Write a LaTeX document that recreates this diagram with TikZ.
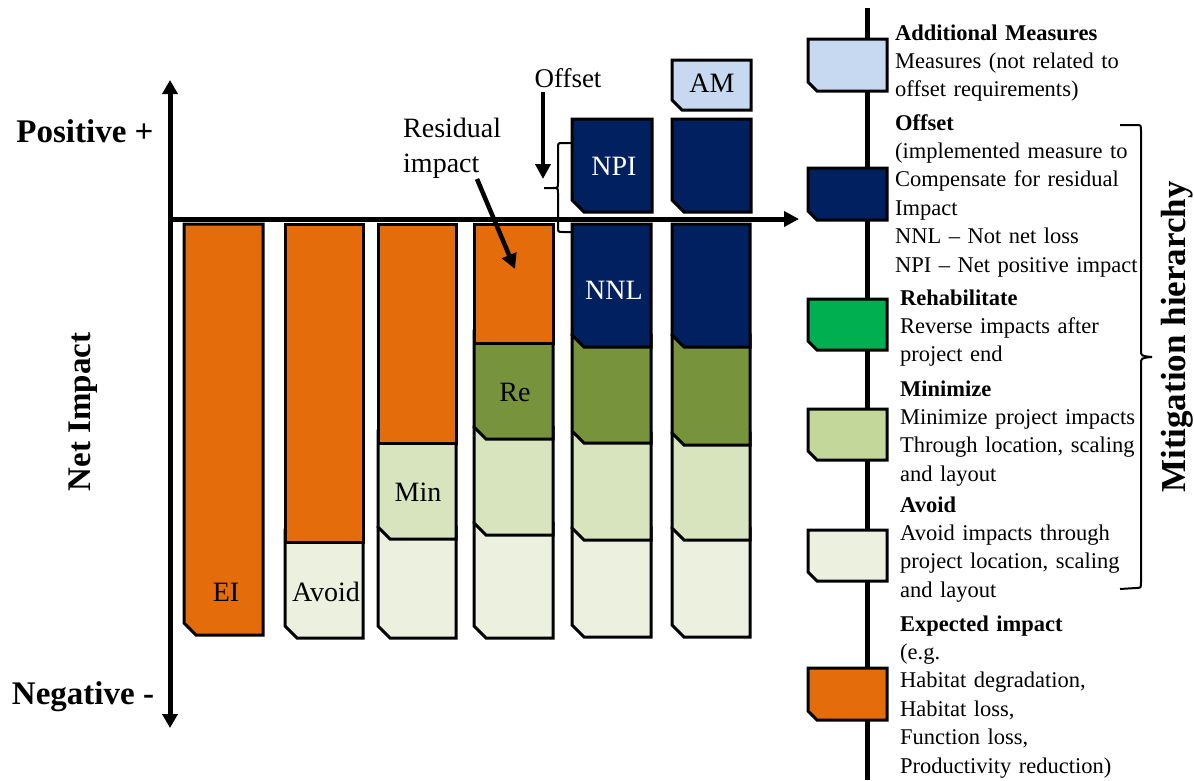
\documentclass[tikz,border=0pt]{standalone}
\usepackage{fontspec}
\setmainfont{Liberation Serif}
\usetikzlibrary{arrows.meta}
\definecolor{orng}{RGB}{228,108,10}
\definecolor{navy}{RGB}{0,32,96}
\definecolor{rec}{RGB}{119,147,60}
\definecolor{minc}{RGB}{215,228,189}
\definecolor{avc}{RGB}{235,241,222}
\definecolor{amc}{RGB}{198,217,241}
\definecolor{rehab}{RGB}{0,176,80}
\definecolor{minleg}{RGB}{196,215,155}
\newcommand\cseg[6][12]{\filldraw[segline,fill=#6] (#2,#4) -- (#3,#4) -- (#3,#5) -- ({#2+#1},#5) -- (#2,{#5-#1}) -- cycle;}
\newcommand\sseg[5]{\filldraw[segline,fill=#5] (#1,#3) rectangle (#2,#4);}
\begin{document}
\begin{tikzpicture}[x=1pt,y=-1pt,
  segline/.style={line width=3pt,line join=miter,draw=black},
  axisline/.style={line width=5pt},
  thickarrow/.style={line width=4.5pt,-{Triangle[length=15pt,width=15pt]}},
  bracel/.style={line width=2pt},
  lbl/.style={font=\fontsize{28}{32}\selectfont,inner sep=0pt},
  wlbl/.style={lbl,text=white},
  big/.style={font=\fontsize{33}{38}\selectfont\bfseries,inner sep=0pt},
  leg/.style={font=\fontsize{22.5}{28.4}\selectfont,inner sep=0pt,text width=300pt,align=left,anchor=base west},
  note/.style={font=\fontsize{27}{35}\selectfont,inner sep=0pt}
]
\useasboundingbox (0,0) rectangle (1194,780);
\fill[white] (0,0) rectangle (1194,780);

% ---- axes
\coordinate (vtop) at (170,80);
\coordinate (vbot) at (170,728);
\coordinate (horg) at (170,219);
\coordinate (htip) at (799,219);
\draw[axisline,{Triangle[length=14pt,width=15pt]}-{Triangle[length=14pt,width=15pt]}] (vbot) -- (vtop);
\draw[axisline,-{Triangle[length=15pt,width=15pt]}] ([xshift=-2.5pt]horg) -- (htip);

\node[big] (pos) at (85,131) {Positive +};
\node[big] (neg) at (83,697) {Negative -};
\node[big,rotate=90] (net) at (83,412) {Net Impact};

% ---- bar 1
\cseg{184}{263}{224}{635}{orng}
% ---- bar 2
\cseg{285}{363}{530}{638}{avc}
\sseg{285}{363}{224}{542}{orng}
% ---- bar 3
\cseg{378}{456}{527}{638}{avc}
\cseg{378}{456}{431}{539}{minc}
\sseg{378}{456}{224}{443}{orng}
% ---- bar 4
\cseg{474}{553}{523}{638}{avc}
\cseg{474}{553}{427}{535}{minc}
\cseg{474}{553}{331}{439}{rec}
\sseg{474}{553}{224}{343}{orng}
% ---- bar 5
\cseg{572}{651}{528}{637}{avc}
\cseg{572}{651}{433}{540}{minc}
\cseg{572}{651}{335}{443}{rec}
\cseg{572}{651}{224}{347}{navy}
\cseg{572}{652}{119}{212}{navy}
% ---- bar 6
\cseg{672}{750}{528}{637}{avc}
\cseg{672}{750}{433}{540}{minc}
\cseg{672}{750}{335}{445}{rec}
\cseg{672}{750}{224}{347}{navy}
\cseg{672}{751}{119}{212}{navy}
\cseg[10]{672}{751}{60}{110}{amc}

% ---- bar labels
\node[lbl] (ei) at (226,592) {EI};
\node[lbl] (avl) at (326,592) {Avoid};
\node[lbl] (minl) at (418,492) {Min};
\node[lbl] (rel) at (515,392) {Re};
\node[wlbl] (nnl) at (614,290) {NNL};
\node[wlbl] (npi) at (614,166) {NPI};
\node[lbl] (am) at (712,83) {AM};

% ---- offset
\node[note] (off) at (568,78) {Offset};
\coordinate (offa) at (543,92);
\coordinate (offb) at (543,179);
\draw[thickarrow] (offa) -- (offb);
\draw[bracel] (572,143) -- (563,143) .. controls (558,143) .. (558,148) -- (558,183)
  .. controls (558,188) .. (553,188) -- (544,188);
\draw[bracel] (553,188) .. controls (558,188) .. (558,193) -- (558,227)
  .. controls (558,232) .. (563,232) -- (572,232);

% ---- residual impact
\node[note,font=\fontsize{28}{35}\selectfont,anchor=base west,align=left,text width=150pt] (res) at (403,137) {Residual\\impact};
\coordinate (resa) at (477,179);
\coordinate (resb) at (515,269);
\draw[thickarrow] (resa) -- (resb);

% ---- legend
\coordinate (ltop) at (867,8);
\coordinate (lbot) at (867,780);
\draw[axisline] (ltop) -- (lbot);
\cseg[9]{808}{887}{39}{91}{amc}
\cseg[9]{808}{887}{168}{220}{navy}
\cseg[9]{808}{887}{299}{350}{rehab}
\cseg[9]{808}{887}{409}{460}{minleg}
\cseg[9]{808}{887}{530}{581}{avc}
\cseg[9]{808}{887}{668}{720}{orng}

\node[leg] (lam) at (895,40) {\textbf{Additional Measures}\\Measures (not related to\\offset requirements)};
\node[leg] (loff) at (895,130) {\textbf{Offset}\\(implemented measure to\\Compensate for residual\\Impact\\NNL – Not net loss\\NPI – Net positive impact};
\node[leg] (lre) at (900,305) {\textbf{Rehabilitate}\\Reverse impacts after\\project end};
\node[leg] (lmin) at (900,396) {\textbf{Minimize}\\Minimize project impacts\\Through location, scaling\\and layout};
\node[leg] (lav) at (900,512) {\textbf{Avoid}\\Avoid impacts through\\project location, scaling\\and layout};
\node[leg] (lei) at (900,631) {\textbf{Expected impact}\\(e.g.\\Habitat degradation,\\Habitat loss,\\Function loss,\\Productivity reduction)};

% ---- big brace
\draw[bracel] (1120,125) -- (1136,125) .. controls (1141,125) .. (1141,131) -- (1141,350)
  .. controls (1141,356) .. (1152,357);
\draw[bracel] (1152,357) .. controls (1141,358) .. (1141,364) -- (1141,582)
  .. controls (1141,588) .. (1136,588) -- (1120,589);
\node[big,font=\fontsize{35}{40}\selectfont\bfseries,rotate=90] (mh) at (1177,337) {Mitigation hierarchy};
\end{tikzpicture}
\end{document}
